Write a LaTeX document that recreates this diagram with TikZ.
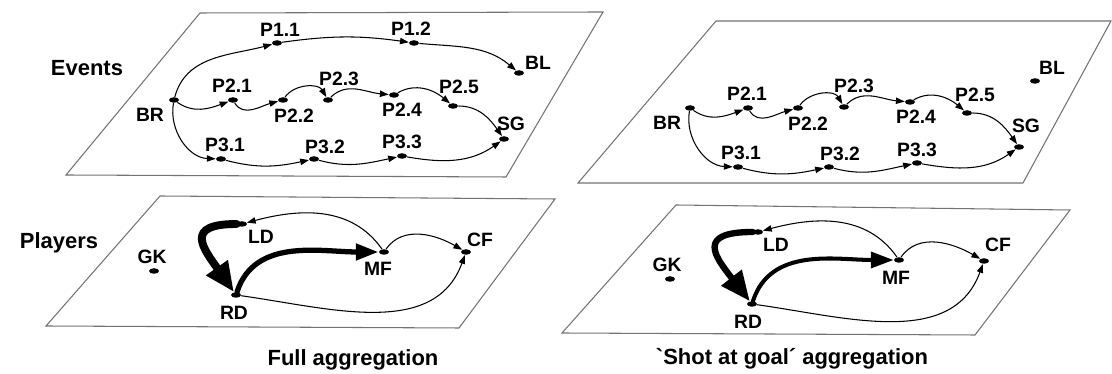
\documentclass[tikz,border=0pt]{standalone}
\usepackage{fontspec}
\setsansfont{Liberation Sans}
\newfontfamily\capfont{Liberation Sans}[Ligatures=TeXOff]
\usepackage{tikz}
\usetikzlibrary{positioning, arrows.meta, shapes.geometric}

\begin{document}
\begin{tikzpicture}[
      x=0.02cm, y=0.02cm,
      font=\sffamily\bfseries,
      plane/.style={draw=black!55, line width=0.6pt},
      ev/.style={ellipse, fill=black, inner sep=0pt, minimum width=0.2cm, minimum height=0.11cm},
      lab/.style={inner sep=0pt, font=\sffamily\bfseries\fontsize{11}{13}\selectfont},
      layer/.style={inner sep=0pt, font=\sffamily\bfseries\fontsize{12.5}{15}\selectfont},
      flow/.style={line width=0.6pt, -{Triangle[length=5pt,width=3.6pt]}},
      heavy/.style={line width=4.5pt, line cap=round, -{Triangle[length=17pt,width=14pt]}},
      strong/.style={line width=3pt, line cap=round, -{Triangle[length=13pt,width=9pt]}}
    ]
      \useasboundingbox (0,0) rectangle (1112,374);

      % planes
      \draw[plane] (200,361) -- (603,362) -- (506,197) -- (66,199) -- cycle;
      \draw[plane] (716,353) -- (1111,353) -- (1023,191) -- (578,191) -- cycle;
      \draw[plane] (160,178) -- (555,175) -- (459,46) -- (46,48) -- cycle;
      \draw[plane] (676,169) -- (1070,164) -- (975,39) -- (562,41) -- cycle;

      \node[layer] (events)  at (87,306) {Events};
      \node[layer] (players) at (59,131) {Players};
      \node[layer] (capfull) at (353,14) {Full aggregation};
      \node[layer] (capshot) at (792,15) {{\capfont\symbol{"60}}Shot at goal´ aggregation};

      % full: events
      \node[ev] (fBR)  at (174,274) {};
      \node[ev] (fP11) at (277,331) {};
      \node[ev] (fP12) at (414,331) {};
      \node[ev] (fBL)  at (519,301) {};
      \node[ev] (fP21) at (233,274) {};
      \node[ev] (fP22) at (283,274) {};
      \node[ev] (fP23) at (328,274) {};
      \node[ev] (fP24) at (394,279) {};
      \node[ev] (fP25) at (453,268) {};
      \node[ev] (fSG)  at (504,235) {};
      \node[ev] (fP31) at (221,215) {};
      \node[ev] (fP32) at (314,215) {};
      \node[ev] (fP33) at (402,218) {};

      \node[lab] (fBRl)  at (150,259) {BR};
      \node[lab] (fP11l) at (280,344) {P1.1};
      \node[lab] (fP12l) at (411,345) {P1.2};
      \node[lab] (fBLl)  at (538,311) {BL};
      \node[lab] (fP21l) at (232,288) {P2.1};
      \node[lab] (fP22l) at (294,258) {P2.2};
      \node[lab] (fP23l) at (339,295) {P2.3};
      \node[lab] (fP24l) at (402,264) {P2.4};
      \node[lab] (fP25l) at (459,287) {P2.5};
      \node[lab] (fSGl)  at (511,250) {SG};
      \node[lab] (fP31l) at (225,229) {P3.1};
      \node[lab] (fP32l) at (325,227) {P3.2};
      \node[lab] (fP33l) at (402,232) {P3.3};

      \draw[flow] (fBR)  to[out=75,in=195] (fP11);
      \draw[flow] (fP11) to[out=8,in=172] (fP12);
      \draw[flow] (fP12) to[out=-5,in=140] (fBL);
      \draw[flow] (fBR)  to[out=-35,in=200] (fP21);
      \draw[flow] (fP21) to[out=-60,in=195] (fP22);
      \draw[flow] (fP22) to[out=55,in=120] (fP23);
      \draw[flow] (fP23) to[out=45,in=175] (fP24);
      \draw[flow] (fP24) to[out=30,in=140] (fP25);
      \draw[flow] (fP25) to[out=0,in=125] (fSG);
      \draw[flow] (fBR)  to[out=-100,in=178] (fP31);
      \draw[flow] (fP31) to[out=-15,in=192] (fP32);
      \draw[flow] (fP32) to[out=-15,in=192] (fP33);
      \draw[flow] (fP33) to[out=-10,in=215] (fSG);

      % shot: events
      \node[ev] (sBR)  at (690,266) {};
      \node[ev] (sP21) at (748,266) {};
      \node[ev] (sP22) at (798,266) {};
      \node[ev] (sP23) at (844,267) {};
      \node[ev] (sP24) at (910,272) {};
      \node[ev] (sP25) at (967,261) {};
      \node[ev] (sSG)  at (1019,227) {};
      \node[ev] (sBL)  at (1035,293) {};
      \node[ev] (sP31) at (738,207) {};
      \node[ev] (sP32) at (829,207) {};
      \node[ev] (sP33) at (917,211) {};

      \node[lab] (sBRl)  at (667,251) {BR};
      \node[lab] (sP21l) at (747,280) {P2.1};
      \node[lab] (sP22l) at (808,250) {P2.2};
      \node[lab] (sP23l) at (854,288) {P2.3};
      \node[lab] (sP24l) at (916,257) {P2.4};
      \node[lab] (sP25l) at (975,279) {P2.5};
      \node[lab] (sSGl)  at (1026,248) {SG};
      \node[lab] (sBLl)  at (1052,306) {BL};
      \node[lab] (sP31l) at (741,221) {P3.1};
      \node[lab] (sP32l) at (840,220) {P3.2};
      \node[lab] (sP33l) at (917,224) {P3.3};

      \draw[flow] (sBR)  to[out=-35,in=200] (sP21);
      \draw[flow] (sP21) to[out=-60,in=195] (sP22);
      \draw[flow] (sP22) to[out=55,in=120] (sP23);
      \draw[flow] (sP23) to[out=45,in=175] (sP24);
      \draw[flow] (sP24) to[out=30,in=140] (sP25);
      \draw[flow] (sP25) to[out=0,in=125] (sSG);
      \draw[flow] (sBR)  to[out=-100,in=178] (sP31);
      \draw[flow] (sP31) to[out=-15,in=192] (sP32);
      \draw[flow] (sP32) to[out=-15,in=192] (sP33);
      \draw[flow] (sP33) to[out=-10,in=215] (sSG);

      % full: players
      \node[ev] (fGK) at (154,103) {};
      \node[ev] (fLD) at (242,150) {};
      \node[ev] (fRD) at (236,79) {};
      \node[ev] (fMF) at (384,122) {};
      \node[ev] (fCF) at (466,122) {};

      \node[lab] (fGKl) at (152,117) {GK};
      \node[lab] (fLDl) at (261,137) {LD};
      \node[lab] (fRDl) at (234,61) {RD};
      \node[lab] (fMFl) at (378,105) {MF};
      \node[lab] (fCFl) at (480,134) {CF};

      \draw[heavy]  (fLD) to[out=180,in=125,looseness=2] (fRD);
      \draw[strong] (fRD) to[out=72,in=180] (fMF);
      \draw[flow]   (fMF) to[out=125,in=15] (fLD);
      \draw[flow]   (fMF) to[out=55,in=150] (fCF);
      \draw[flow]   (fRD) to[out=-8,in=-110] (fCF);

      % shot: players
      \node[ev] (sGK) at (670,95) {};
      \node[ev] (sLD) at (758,142) {};
      \node[ev] (sRD) at (752,70) {};
      \node[ev] (sMF) at (899,114) {};
      \node[ev] (sCF) at (984,113) {};

      \node[lab] (sGKl) at (667,109) {GK};
      \node[lab] (sLDl) at (776,129) {LD};
      \node[lab] (sRDl) at (748,52) {RD};
      \node[lab] (sMFl) at (896,96) {MF};
      \node[lab] (sCFl) at (998,129) {CF};

      \draw[heavy, line width=3.6pt]  (sLD) to[out=180,in=128,looseness=2.1] (sRD);
      \draw[strong, line width=2.3pt] (sRD) to[out=72,in=180] (sMF);
      \draw[flow]   (sMF) to[out=125,in=15] (sLD);
      \draw[flow]   (sMF) to[out=55,in=150] (sCF);
      \draw[flow]   (sRD) to[out=-8,in=-110] (sCF);
    \end{tikzpicture}
\end{document}
